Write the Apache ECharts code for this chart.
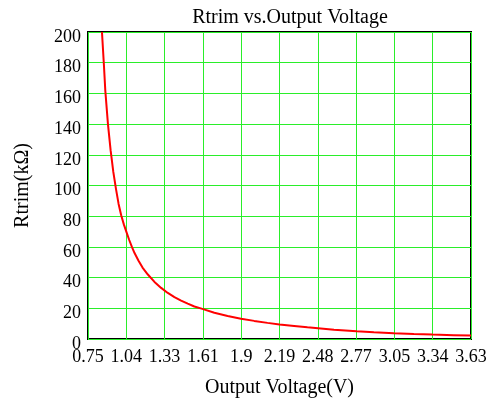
<!DOCTYPE html>
<html>
<head>
<meta charset="utf-8">
<script src="https://cdn.jsdelivr.net/npm/echarts@6/dist/echarts.min.js"></script>
<style>
  html, body { margin: 0; padding: 0; background: #fff; }
  #chart { width: 503px; height: 403px; }
</style>
</head>
<body>
<div id="chart"></div>
<script>
// Uitgangsspanning (V) en Rtrim (kOhm).
const voltage = [0.855, 0.87, 0.88, 0.90, 0.92, 0.94, 0.96, 0.98, 1.00, 1.02,
  1.04, 1.06, 1.08, 1.10, 1.13, 1.16, 1.20, 1.25, 1.30, 1.35, 1.40, 1.45,
  1.50, 1.55, 1.61, 1.70, 1.80, 1.90, 2.00, 2.10, 2.19, 2.30, 2.40, 2.48,
  2.60, 2.77, 2.90, 3.05, 3.20, 3.34, 3.50, 3.63];
const rtrim = [200, 178, 162, 140, 123, 109, 98, 88, 80.5, 74.5,
  69.5, 64.5, 60, 56, 51, 46.5, 42, 37.2, 33.3, 30, 27.3, 25,
  23, 21.2, 19.6, 17.1, 15, 13.2, 11.8, 10.5, 9.5, 8.5, 7.6, 7.0,
  6.1, 5.0, 4.4, 3.8, 3.3, 2.9, 2.5, 2.2];

const serif = '"Liberation Serif", "Times New Roman", serif';

let chart = echarts.init(document.getElementById('chart'));

let option = {
  animation: false,
  title: {
    text: 'Rtrim vs.Output Voltage',
    left: 285,
    textAlign: 'center',
    top: 3,
    textStyle: { fontFamily: serif, fontSize: 20, fontWeight: 'normal', color: '#000' }
  },
  grid: {
    left: 88, right: 32, top: 32, bottom: 59,
    show: true, borderColor: '#000', borderWidth: 2
  },
  xAxis: {
    type: 'value',
    min: 0.75,
    max: 3.63,
    interval: 0.288,
    name: 'Output Voltage(V)',
    nameLocation: 'middle',
    nameGap: 39,
    nameTextStyle: { fontFamily: serif, fontSize: 20, color: '#000' },
    axisLine: { show: false },
    axisTick: { show: false },
    axisLabel: {
      fontFamily: serif, fontSize: 18, color: '#000', margin: 9,
      formatter: v => String(Math.round(v * 100) / 100)
    },
    splitLine: { lineStyle: { color: '#2aee2a', width: 1 } }
  },
  yAxis: {
    type: 'value',
    min: 0,
    max: 200,
    interval: 20,
    name: 'Rtrim(kΩ)',
    nameLocation: 'middle',
    nameGap: 55,
    nameTextStyle: { fontFamily: serif, fontSize: 20, color: '#000' },
    axisLine: { show: false },
    axisTick: { show: false },
    axisLabel: {
      fontFamily: serif, fontSize: 18, color: '#000', margin: 7,
      verticalAlign: 'top', lineHeight: 10
    },
    splitLine: { lineStyle: { color: '#2aee2a', width: 1 } }
  },
  series: [{
    type: 'line',
    data: voltage.map((v, i) => [v, rtrim[i]]),
    showSymbol: false,
    lineStyle: { color: '#ff0000', width: 2 },
    clip: true
  }]
};

chart.setOption(option);
</script>
</body>
</html>
